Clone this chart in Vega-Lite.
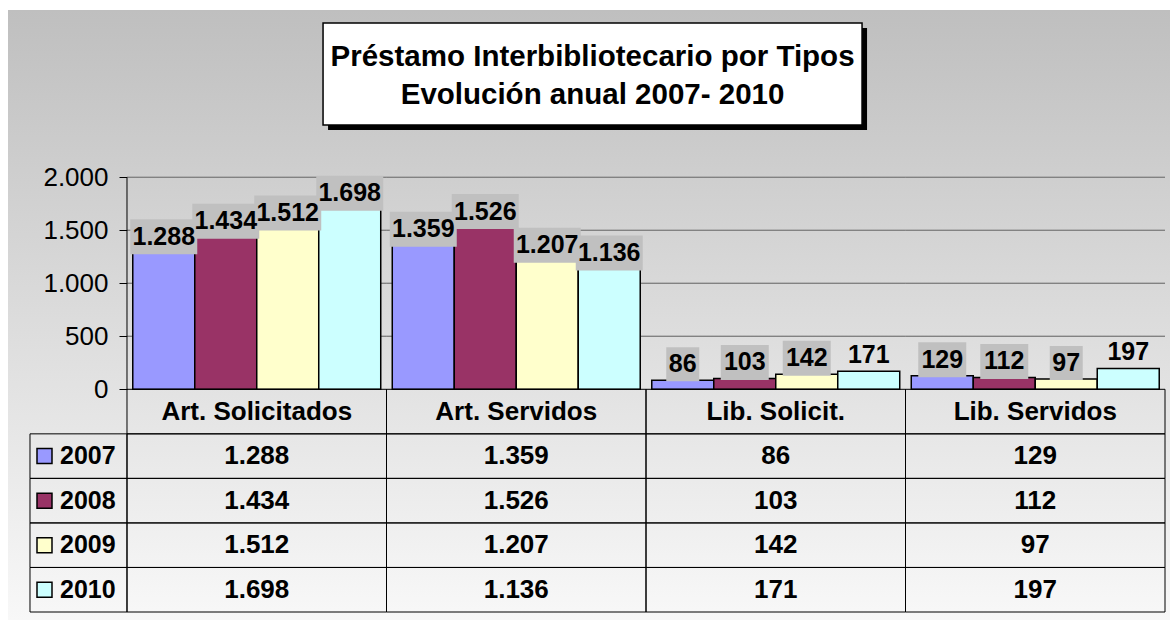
{
  "$schema": "https://vega.github.io/schema/vega-lite/v6.json",
  "width": 1162,
  "height": 610,
  "autosize": "none",
  "padding": {"left": 8, "top": 10, "right": 0, "bottom": 3},
  "background": "white",
  "view": {
    "stroke": null,
    "fill": {
      "gradient": "linear", "x1": 0, "y1": 0, "x2": 0, "y2": 1,
      "stops": [
        {"offset": 0, "color": "#bfbfbf"},
        {"offset": 1, "color": "#f8f8f8"}
      ]
    }
  },
  "config": {
    "font": "Liberation Sans",
    "locale": {"number": {"decimal": ",", "thousands": ".", "grouping": [3], "currency": ["", " €"]}}
  },
  "data": {
    "values": [
      {"cat": "Art. Solicitados", "year": "2007", "value": 1288},
      {"cat": "Art. Solicitados", "year": "2008", "value": 1434},
      {"cat": "Art. Solicitados", "year": "2009", "value": 1512},
      {"cat": "Art. Solicitados", "year": "2010", "value": 1698},
      {"cat": "Art. Servidos", "year": "2007", "value": 1359},
      {"cat": "Art. Servidos", "year": "2008", "value": 1526},
      {"cat": "Art. Servidos", "year": "2009", "value": 1207},
      {"cat": "Art. Servidos", "year": "2010", "value": 1136},
      {"cat": "Lib. Solicit.", "year": "2007", "value": 86},
      {"cat": "Lib. Solicit.", "year": "2008", "value": 103},
      {"cat": "Lib. Solicit.", "year": "2009", "value": 142},
      {"cat": "Lib. Solicit.", "year": "2010", "value": 171},
      {"cat": "Lib. Servidos", "year": "2007", "value": 129},
      {"cat": "Lib. Servidos", "year": "2008", "value": 112},
      {"cat": "Lib. Servidos", "year": "2009", "value": 97},
      {"cat": "Lib. Servidos", "year": "2010", "value": 197}
    ]
  },
  "resolve": {"scale": {"y": "independent"}},
  "layer": [
    {
      "transform": [
        {"filter": "datum.year == '2007'"},
        {"calculate": "[500, 1000, 1500, 2000]", "as": "t"},
        {"flatten": ["t"]}
      ],
      "mark": {"type": "rect", "fillOpacity": 0, "stroke": "#7f7f7f", "strokeWidth": 1},
      "encoding": {
        "x": {"field": "cat", "type": "nominal", "axis": null},
        "y": {"field": "t", "type": "quantitative", "axis": null, "scale": {"domain": [-2176.4, 3578.3], "nice": false, "zero": false}},
        "y2": {"field": "t"}
      }
    },
    {
      "mark": {"type": "bar", "stroke": "black", "strokeWidth": 1.5},
      "encoding": {
        "x": {
          "field": "cat", "type": "nominal", "sort": null, "axis": null,
          "scale": {
            "domain": ["Art. Solicitados", "Art. Servidos", "Lib. Solicit.", "Lib. Servidos"],
            "paddingInner": 0, "paddingOuter": 0.23892, "align": 0.95968
          }
        },
        "xOffset": {
          "field": "year", "type": "nominal",
          "scale": {"domain": ["2007", "2008", "2009", "2010"], "paddingInner": 0, "paddingOuter": 0.093}
        },
        "y": {
          "field": "value", "type": "quantitative",
          "scale": {"domain": [-2176.4, 3578.3], "nice": false, "zero": false},
          "axis": {
            "orient": "left", "offset": -119, "title": null,
            "values": [0, 500, 1000, 1500, 2000], "format": ",d",
            "domain": false, "grid": false,
            "ticks": true, "tickSize": 8, "tickColor": "black", "tickWidth": 1,
            "labelFont": "Liberation Sans", "labelFontSize": 26, "labelColor": "black",
            "labelPadding": 11
          }
        },
        "y2": {"datum": 0},
        "color": {
          "field": "year", "type": "nominal", "legend": null,
          "scale": {"domain": ["2007", "2008", "2009", "2010"], "range": ["#9999ff", "#993366", "#ffffcc", "#ccffff"]}
        }
      }
    },
    {
      "transform": [{"filter": "datum.cat == 'Art. Solicitados' && datum.year == '2007'"}],
      "mark": {"type": "rule", "color": "black", "strokeWidth": 1},
      "encoding": {
        "x": {"field": "cat", "type": "nominal", "bandPosition": 0, "axis": null},
        "y": {"datum": 2000, "type": "quantitative", "axis": null, "scale": {"domain": [-2176.4, 3578.3], "nice": false, "zero": false}},
        "y2": {"datum": 0}
      }
    },
    {
      "transform": [{"filter": "datum.value >= 1000"}],
      "mark": {"type": "point", "shape": "M-1,-0.5224H1V0.5224H-1Z", "size": 4489, "filled": true, "fill": "#c0c0c0", "opacity": 1, "strokeWidth": 0, "yOffset": -16},
      "encoding": {
        "x": {"field": "cat", "type": "nominal", "axis": null},
        "xOffset": {"field": "year", "type": "nominal"},
        "y": {"field": "value", "type": "quantitative", "axis": null, "scale": {"domain": [-2176.4, 3578.3], "nice": false, "zero": false}}
      }
    },
    {
      "transform": [{"filter": "datum.value >= 100 && datum.value < 150"}],
      "mark": {"type": "point", "shape": "M-1,-0.7292H1V0.7292H-1Z", "size": 2304, "filled": true, "fill": "#c0c0c0", "opacity": 1, "strokeWidth": 0, "yOffset": -16},
      "encoding": {
        "x": {"field": "cat", "type": "nominal", "axis": null},
        "xOffset": {"field": "year", "type": "nominal"},
        "y": {"field": "value", "type": "quantitative", "axis": null, "scale": {"domain": [-2176.4, 3578.3], "nice": false, "zero": false}}
      }
    },
    {
      "transform": [{"filter": "datum.value < 100"}],
      "mark": {"type": "point", "shape": "M-1,-1.0294H1V1.0294H-1Z", "size": 1089, "filled": true, "fill": "#c0c0c0", "opacity": 1, "strokeWidth": 0, "yOffset": -16},
      "encoding": {
        "x": {"field": "cat", "type": "nominal", "axis": null},
        "xOffset": {"field": "year", "type": "nominal"},
        "y": {"field": "value", "type": "quantitative", "axis": null, "scale": {"domain": [-2176.4, 3578.3], "nice": false, "zero": false}}
      }
    },
    {
      "mark": {"type": "text", "fontWeight": "bold", "fontSize": 25, "baseline": "middle", "align": "center", "color": "black", "yOffset": -16},
      "encoding": {
        "x": {"field": "cat", "type": "nominal", "axis": null},
        "xOffset": {"field": "year", "type": "nominal"},
        "y": {"field": "value", "type": "quantitative", "axis": null, "scale": {"domain": [-2176.4, 3578.3], "nice": false, "zero": false}},
        "text": {"field": "value", "type": "quantitative", "format": ",d"}
      }
    },
    {
      "transform": [{"filter": "datum.cat == 'Art. Servidos' && datum.year == '2007'"}],
      "mark": {"type": "point", "shape": "M-1,-0.18924H1V0.18924H-1Z", "size": 290521, "filled": true, "fill": "black", "opacity": 1, "strokeWidth": 0, "xOffset": 5, "yOffset": 5},
      "encoding": {
        "x": {"field": "cat", "type": "nominal", "bandPosition": 0.794, "axis": null},
        "y": {"datum": 2974.5, "type": "quantitative", "axis": null, "scale": {"domain": [-2176.4, 3578.3], "nice": false, "zero": false}}
      }
    },
    {
      "transform": [{"filter": "datum.cat == 'Art. Servidos' && datum.year == '2007'"}],
      "mark": {"type": "point", "shape": "M-1,-0.18924H1V0.18924H-1Z", "size": 290521, "filled": true, "fill": "white", "opacity": 1, "stroke": "black", "strokeWidth": 1.5},
      "encoding": {
        "x": {"field": "cat", "type": "nominal", "bandPosition": 0.794, "axis": null},
        "y": {"datum": 2974.5, "type": "quantitative", "axis": null, "scale": {"domain": [-2176.4, 3578.3], "nice": false, "zero": false}}
      }
    },
    {
      "transform": [{"filter": "datum.cat == 'Art. Servidos' && datum.year == '2007'"}],
      "mark": {"type": "text", "fontWeight": "bold", "fontSize": 29.5, "lineHeight": 38, "baseline": "middle", "align": "center", "color": "black", "yOffset": -17},
      "encoding": {
        "x": {"field": "cat", "type": "nominal", "bandPosition": 0.794, "axis": null},
        "y": {"datum": 2974.5, "type": "quantitative", "axis": null, "scale": {"domain": [-2176.4, 3578.3], "nice": false, "zero": false}},
        "text": {"value": ["Préstamo Interbibliotecario por Tipos", "Evolución anual 2007- 2010"]}
      }
    },
    {
      "mark": {"type": "rect", "fillOpacity": 0, "stroke": "black", "strokeWidth": 1},
      "encoding": {
        "x": {"field": "cat", "type": "nominal", "axis": null},
        "y": {
          "field": "year", "type": "nominal", "axis": null,
          "scale": {"type": "band", "domain": ["d1", "d2", "d3", "d4", "d5", "d6", "d7", "d8", "hdr", "2007", "2008", "2009", "2010"], "paddingInner": 0, "paddingOuter": 0.348, "align": 0.742}
        }
      }
    },
    {
      "transform": [{"filter": "datum.year == '2007'"}, {"calculate": "'hdr'", "as": "row"}],
      "mark": {"type": "rect", "fillOpacity": 0, "stroke": "black", "strokeWidth": 1},
      "encoding": {
        "x": {"field": "cat", "type": "nominal", "axis": null},
        "y": {
          "field": "row", "type": "nominal", "axis": null,
          "scale": {"type": "band", "domain": ["d1", "d2", "d3", "d4", "d5", "d6", "d7", "d8", "hdr", "2007", "2008", "2009", "2010"], "paddingInner": 0, "paddingOuter": 0.348, "align": 0.742}
        }
      }
    },
    {
      "transform": [{"filter": "datum.cat == 'Art. Solicitados'"}],
      "mark": {"type": "rect", "fillOpacity": 0, "stroke": "black", "strokeWidth": 1, "width": 97, "xOffset": -178.25},
      "encoding": {
        "x": {"field": "cat", "type": "nominal", "axis": null},
        "y": {
          "field": "year", "type": "nominal", "axis": null,
          "scale": {"type": "band", "domain": ["d1", "d2", "d3", "d4", "d5", "d6", "d7", "d8", "hdr", "2007", "2008", "2009", "2010"], "paddingInner": 0, "paddingOuter": 0.348, "align": 0.742}
        }
      }
    },
    {
      "transform": [{"filter": "datum.year == '2007'"}, {"calculate": "'hdr'", "as": "row"}],
      "mark": {"type": "text", "fontWeight": "bold", "fontSize": 26, "baseline": "middle", "align": "center", "color": "black"},
      "encoding": {
        "x": {"field": "cat", "type": "nominal", "axis": null},
        "y": {
          "field": "row", "type": "nominal", "axis": null,
          "scale": {"type": "band", "domain": ["d1", "d2", "d3", "d4", "d5", "d6", "d7", "d8", "hdr", "2007", "2008", "2009", "2010"], "paddingInner": 0, "paddingOuter": 0.348, "align": 0.742}
        },
        "text": {"field": "cat", "type": "nominal"}
      }
    },
    {
      "mark": {"type": "text", "fontWeight": "bold", "fontSize": 26, "baseline": "middle", "align": "center", "color": "black"},
      "encoding": {
        "x": {"field": "cat", "type": "nominal", "axis": null},
        "y": {
          "field": "year", "type": "nominal", "axis": null,
          "scale": {"type": "band", "domain": ["d1", "d2", "d3", "d4", "d5", "d6", "d7", "d8", "hdr", "2007", "2008", "2009", "2010"], "paddingInner": 0, "paddingOuter": 0.348, "align": 0.742}
        },
        "text": {"field": "value", "type": "quantitative", "format": ",d"}
      }
    },
    {
      "transform": [{"filter": "datum.cat == 'Art. Solicitados'"}],
      "mark": {"type": "point", "shape": "square", "size": 225, "filled": true, "opacity": 1, "stroke": "black", "strokeWidth": 1.5, "xOffset": -82.5},
      "encoding": {
        "x": {"field": "cat", "type": "nominal", "bandPosition": 0, "axis": null},
        "y": {
          "field": "year", "type": "nominal", "axis": null,
          "scale": {"type": "band", "domain": ["d1", "d2", "d3", "d4", "d5", "d6", "d7", "d8", "hdr", "2007", "2008", "2009", "2010"], "paddingInner": 0, "paddingOuter": 0.348, "align": 0.742}
        },
        "color": {"field": "year", "type": "nominal", "legend": null}
      }
    },
    {
      "transform": [{"filter": "datum.cat == 'Art. Solicitados'"}],
      "mark": {"type": "text", "fontWeight": "bold", "fontSize": 25, "baseline": "middle", "align": "left", "color": "black", "xOffset": -67},
      "encoding": {
        "x": {"field": "cat", "type": "nominal", "bandPosition": 0, "axis": null},
        "y": {
          "field": "year", "type": "nominal", "axis": null,
          "scale": {"type": "band", "domain": ["d1", "d2", "d3", "d4", "d5", "d6", "d7", "d8", "hdr", "2007", "2008", "2009", "2010"], "paddingInner": 0, "paddingOuter": 0.348, "align": 0.742}
        },
        "text": {"field": "year", "type": "nominal"}
      }
    }
  ]
}
